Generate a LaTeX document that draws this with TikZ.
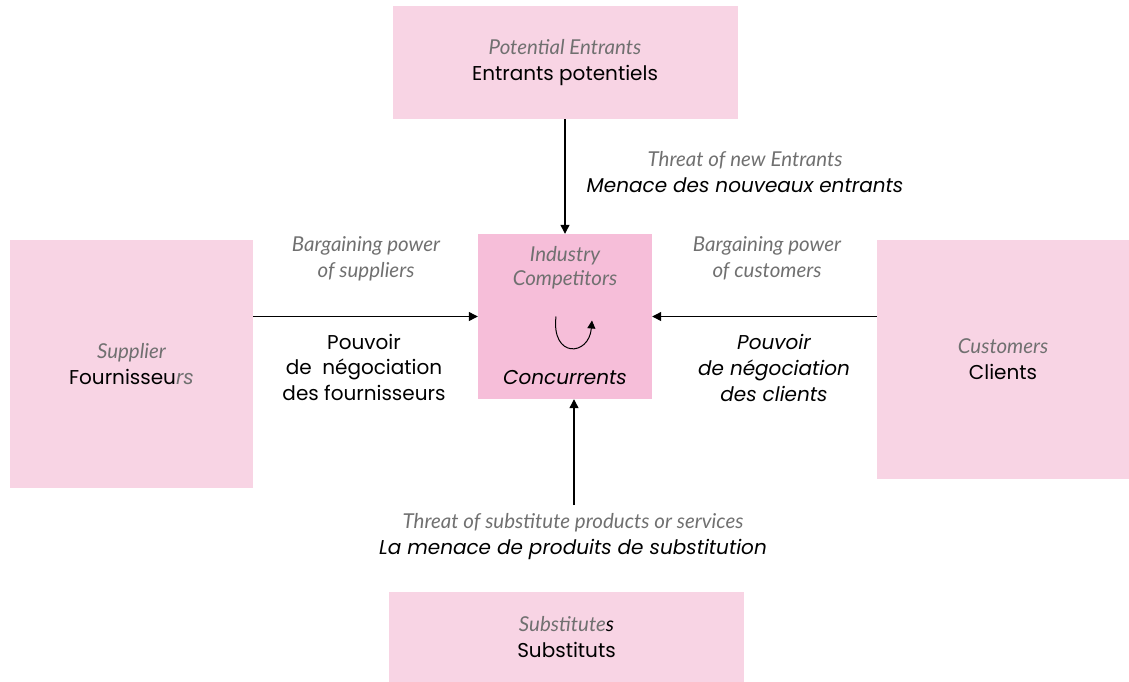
\documentclass[tikz,border=0pt]{standalone}
\usepackage{fontspec}
\setmainfont{Poppins}
\newfontfamily\engfont{Lato}
\usetikzlibrary{positioning,calc,arrows.meta}
\definecolor{outerpink}{RGB}{248,212,228}
\definecolor{innerpink}{RGB}{246,190,217}
\definecolor{engtxt}{RGB}{112,112,112}
\newcommand{\eng}[1]{{\engfont\itshape\fontsize{20.5}{26}\selectfont\color{engtxt}#1}}
\begin{document}
\begin{tikzpicture}[x=1pt,y=-1pt,
		force/.style={fill=outerpink,inner sep=0pt,align=center,font=\fontsize{20}{26}\selectfont},
		lbl/.style={align=center,font=\fontsize{20}{26}\selectfont},
		flow/.style={line width=1.2pt,-{Triangle[length=9pt,width=9pt]}}]
	\useasboundingbox (0,0) rectangle (1129,681);
	% boxes
	\node[force,minimum width=345pt,minimum height=113pt] (ent) at (565,62.5)
		{\eng{Potential Entrants}\\Entrants potentiels};
	\node[force,fill=innerpink,minimum width=174pt,minimum height=165pt] (conc) at (565,316.5) {};
	\node[force,minimum width=243pt,minimum height=248pt] (sup) at (131.5,364)
		{\eng{Supplier}\\Fournisseu{\color{engtxt}\itshape rs}};
	\node[force,minimum width=252pt,minimum height=239pt] (cli) at (1003,359.5)
		{\eng{Customers}\\Clients};
	\node[force,minimum width=355pt,minimum height=90pt] (sub) at (566.5,637)
		{\eng{Substitute}{\engfont\itshape\fontsize{20.5}{26}\selectfont s}\\Substituts};
	% texts of the middle box
	\node[lbl] (ind) at (565,268) {\eng{Industry}\\[-2pt]\eng{Competitors}};
	\node[lbl,font=\fontsize{20}{24}\selectfont\itshape] (concl) at (565,378) {Concurrents};
	\draw[line width=1pt,-{Triangle[length=8pt,width=8pt]}] ($(conc)+(-9,0)$)
		.. controls ($(conc)+(-14,42)$) and ($(conc)+(24,40)$) .. ($(conc)+(27,4)$);
	% labels of the forces
	\node[lbl] (thrent) at (745,172) {\eng{Threat of new Entrants}\\\itshape Menace des nouveaux entrants};
	\node[lbl] (bpsup) at (366,259) {\eng{Bargaining power}\\\eng{of suppliers}};
	\node[lbl,font=\fontsize{20}{25.5}\selectfont] (pvsup) at (364,367) {Pouvoir\\de~ négociation\\des fournisseurs};
	\node[lbl] (bpcli) at (767,258) {\eng{Bargaining power}\\\eng{of customers}};
	\node[lbl,font=\fontsize{20}{26}\selectfont\itshape] (pvcli) at (774,368) {Pouvoir\\de négociation\\des clients};
	\node[lbl] (thrsub) at (573,537) {\eng{Threat of substitute products or services}\\\itshape La menace de produits de substitution};
	\coordinate (subtail) at (574,505);
	% arrows
	\draw[flow] (ent) -- (conc);
	\draw[flow] (sup.east |- conc.west) -- (conc.west);
	\draw[flow] (cli.west |- conc.east) -- (conc.east);
	\draw[flow] (subtail) -- (subtail |- conc.south);
\end{tikzpicture}
\end{document}
